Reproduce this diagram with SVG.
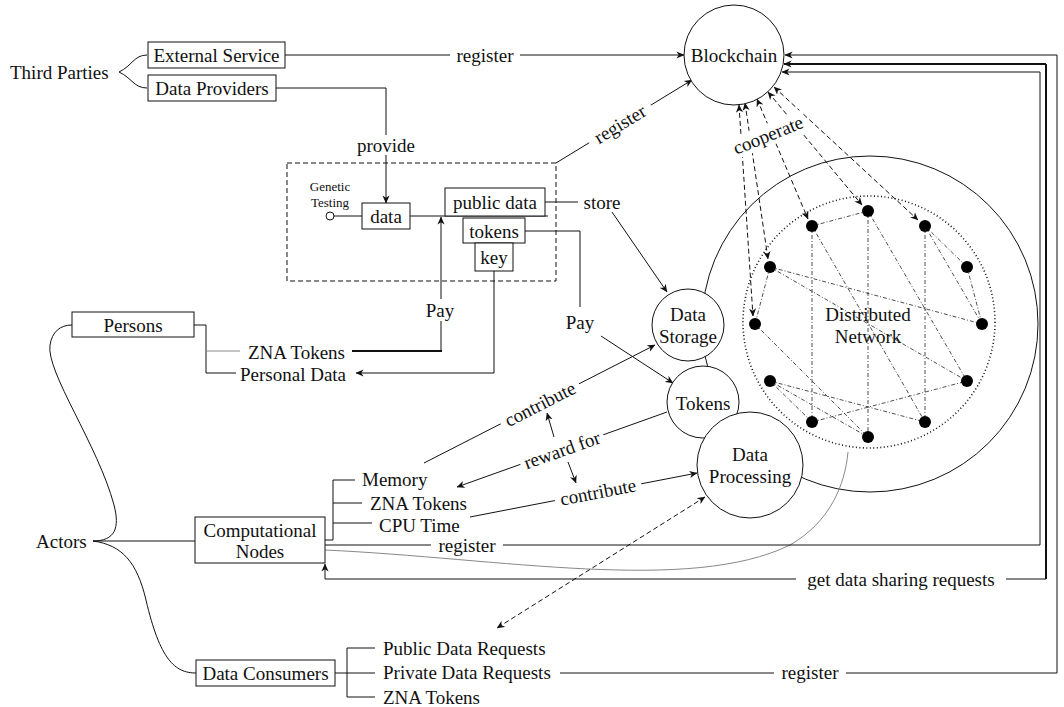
<svg xmlns="http://www.w3.org/2000/svg" width="1064" height="707" viewBox="0 0 1064 707">
<style>
text{font-family:"Liberation Serif","Times New Roman",serif;font-size:19px;fill:#111;text-anchor:middle;dominant-baseline:central}
.st{text-anchor:start}
.s{font-size:13px}
.ln{fill:none;stroke:#111;stroke-width:1}
.th{fill:none;stroke:#111;stroke-width:2}
.gr{fill:none;stroke:#888;stroke-width:1}
.box{fill:#fff;stroke:#111;stroke-width:1}
.cir{fill:#fff;stroke:#111;stroke-width:1}
.dash{fill:none;stroke:#111;stroke-width:1;stroke-dasharray:5 3}
.dd{fill:none;stroke:#222;stroke-width:0.8;stroke-dasharray:4 2 1 2}
.dot{fill:none;stroke:#111;stroke-width:1.6;stroke-dasharray:1 2.5}
.bg{fill:#fff}
.nd{fill:#000}
</style>
<defs>
<marker id="a" viewBox="0 0 10 10" refX="9.5" refY="5" markerWidth="8" markerHeight="8" markerUnits="userSpaceOnUse" orient="auto-start-reverse">
<path d="M0,0.5 L10,5 L0,9.5 L3,5 z" fill="#111"/>
</marker>
</defs>

<g id="network">
<circle cx="870" cy="324" r="168" class="cir"/>
<circle cx="869" cy="322" r="126" class="dot"/>
<g id="net-edges">
<line x1="812" y1="226" x2="868" y2="211" class="dd"/>
<line x1="812" y1="226" x2="812" y2="422" class="dd"/>
<line x1="868" y1="211" x2="868" y2="437" class="dd"/>
<line x1="925" y1="226" x2="925" y2="422" class="dd" stroke="#777"/>
<line x1="868" y1="211" x2="967" y2="381" class="dd"/>
<line x1="812" y1="226" x2="925" y2="422" class="dd"/>
<line x1="925" y1="226" x2="967" y2="267" class="dd"/>
<line x1="925" y1="226" x2="982" y2="324" class="dd"/>
<line x1="967" y1="267" x2="982" y2="324" class="dd"/>
<line x1="770" y1="267" x2="982" y2="324" class="dd"/>
<line x1="770" y1="267" x2="967" y2="381" class="dd"/>
<line x1="770" y1="267" x2="755" y2="324" class="dd"/>
<line x1="755" y1="324" x2="868" y2="437" class="dd"/>
<line x1="770" y1="381" x2="812" y2="422" class="dd"/>
<line x1="770" y1="381" x2="925" y2="422" class="dd"/>
<line x1="770" y1="381" x2="868" y2="437" class="dd"/>
<line x1="812" y1="422" x2="967" y2="381" class="dd"/>
</g>
<g id="net-nodes">
<circle cx="812" cy="226" r="6" class="nd"/>
<circle cx="868" cy="211" r="6" class="nd"/>
<circle cx="925" cy="226" r="6" class="nd"/>
<circle cx="770" cy="267" r="6" class="nd"/>
<circle cx="967" cy="267" r="6" class="nd"/>
<circle cx="755" cy="324" r="6" class="nd"/>
<circle cx="982" cy="324" r="6" class="nd"/>
<circle cx="770" cy="381" r="6" class="nd"/>
<circle cx="967" cy="381" r="6" class="nd"/>
<circle cx="812" cy="422" r="6" class="nd"/>
<circle cx="925" cy="422" r="6" class="nd"/>
<circle cx="868" cy="437" r="6" class="nd"/>
</g>
<text x="868" y="314">Distributed</text>
<text x="868" y="336">Network</text>
</g>

<g id="connectors">
<path d="M147,55 C134,55 132,66 119,72 C132,78 134,88 147,88" class="ln"/>
<line x1="285" y1="55" x2="684" y2="55" class="ln" marker-end="url(#a)"/>
<rect x="450" y="45" width="70" height="20" class="bg"/>
<text x="485" y="55">register</text>
<polyline points="276,88 386,88 386,203" class="ln" marker-end="url(#a)"/>
<rect x="352" y="135" width="68" height="20" class="bg"/>
<text x="386" y="145">provide</text>
<line x1="334" y1="216" x2="362" y2="216" class="ln"/>
<line x1="410" y1="216" x2="548" y2="216" class="ln"/>
<line x1="556" y1="163" x2="692" y2="80" class="ln" marker-end="url(#a)"/>
<g transform="translate(620,124) rotate(-31.4)"><rect x="-36" y="-11" width="72" height="22" class="bg"/><text x="0" y="0">register</text></g>
<line x1="545" y1="202" x2="578" y2="202" class="ln"/>
<text x="602" y="202">store</text>
<line x1="612" y1="212" x2="667" y2="292" class="ln" marker-end="url(#a)"/>
<polyline points="525,231 580,231 580,307" class="ln"/>
<text x="580" y="322">Pay</text>
<line x1="601" y1="336" x2="673" y2="383" class="ln" marker-end="url(#a)"/>
<polyline points="494,271 494,373 356,373" class="ln" marker-end="url(#a)"/>
<line x1="352" y1="351" x2="442" y2="351" class="th"/>
<line x1="441" y1="351" x2="441" y2="217" class="ln" marker-end="url(#a)"/>
<rect x="422" y="299" width="38" height="22" class="bg"/>
<text x="440" y="310">Pay</text>
<polyline points="194,325 206,325 206,373 236,373" class="ln"/>
<line x1="206" y1="351" x2="240" y2="351" class="gr"/>
<path d="M93,541 C115,541 120,528 114,505 C98,445 46,372 50,345 C52,332 60,325 72,325" class="ln"/>
<line x1="93" y1="541" x2="195" y2="541" class="ln" stroke-width="1.5"/>
<path d="M93,541 C122,545 137,562 146,600 C160,660 175,673 196,673" class="ln"/>
<polyline points="325,540 333,540 333,480 355,480" class="ln" stroke-width="1.4"/>
<line x1="333" y1="503" x2="362" y2="503" class="ln"/>
<line x1="333" y1="523" x2="372" y2="523" class="ln" stroke-width="1.6"/>
<line x1="424" y1="463" x2="655" y2="345" class="ln" marker-end="url(#a)"/>
<g transform="translate(540,404) rotate(-27)"><rect x="-44" y="-11" width="88" height="22" class="bg"/><text x="0" y="0">contribute</text></g>
<line x1="667" y1="412" x2="457" y2="487" class="ln" marker-end="url(#a)"/>
<g transform="translate(562,450) rotate(-19.6)"><rect x="-44" y="-11" width="88" height="22" class="bg"/><text x="0" y="0">reward for</text></g>
<line x1="554" y1="437" x2="547" y2="413" class="ln" stroke-width="0.8" marker-end="url(#a)"/>
<line x1="568" y1="462" x2="576" y2="483" class="ln" stroke-width="0.8" marker-end="url(#a)"/>
<line x1="470" y1="517" x2="697" y2="473" class="ln" marker-end="url(#a)"/>
<g transform="translate(598,492) rotate(-11)"><rect x="-44" y="-11" width="88" height="22" class="bg"/><text x="0" y="0">contribute</text></g>
<path d="M325,550 C500,558 690,594 790,545 C830,522 845,485 848,452" class="gr"/>
<polyline points="325,545 1040,545 1040,72 782,72" class="ln" marker-end="url(#a)"/>
<rect x="431" y="535" width="72" height="20" class="bg"/>
<text x="467" y="545">register</text>
<line x1="1046" y1="64" x2="784" y2="64" class="th" marker-end="url(#a)"/>
<polyline points="1046,64 1046,579 325,579 325,564" class="ln" marker-end="url(#a)"/>
<line x1="1046" y1="64" x2="1046" y2="579" class="th"/>
<rect x="796" y="569" width="210" height="20" class="bg"/>
<text x="901" y="579">get data sharing requests</text>
<polyline points="560,673 1057,673 1057,55 785,55" class="ln" marker-end="url(#a)"/>
<rect x="774" y="663" width="72" height="20" class="bg"/>
<text x="810" y="672">register</text>
<line x1="335" y1="673" x2="375" y2="673" class="ln"/>
<polyline points="375,648 347,648 347,697 375,697" class="ln"/>
<line x1="705" y1="497" x2="497" y2="628" class="dash" marker-start="url(#a)" marker-end="url(#a)"/>
<line x1="739" y1="105" x2="753" y2="316" class="dash" marker-start="url(#a)" marker-end="url(#a)"/>
<line x1="745" y1="103" x2="768" y2="259" class="dash" marker-start="url(#a)" marker-end="url(#a)"/>
<line x1="757" y1="99" x2="808" y2="219" class="dash" marker-start="url(#a)" marker-end="url(#a)"/>
<line x1="768" y1="92" x2="862" y2="205" class="dash" marker-start="url(#a)" marker-end="url(#a)"/>
<line x1="774" y1="87" x2="918" y2="220" class="dash" marker-start="url(#a)" marker-end="url(#a)"/>
<g transform="translate(768,135) rotate(-22)"><rect x="-40" y="-11" width="80" height="22" class="bg"/><text x="0" y="0">cooperate</text></g>
</g>

<g id="third-parties"><text x="10" y="72" class="st">Third Parties</text></g>
<g id="external-service"><rect x="148" y="42" width="137" height="26" class="box"/><text x="216.5" y="55">External Service</text></g>
<g id="data-providers"><rect x="148" y="75" width="128" height="26" class="box"/><text x="212" y="88">Data Providers</text></g>

<g id="blockchain"><circle cx="734" cy="55" r="50" class="cir"/><text x="734" y="55">Blockchain</text></g>

<g id="genetic-testing">
<rect x="287" y="163" width="269" height="118" fill="none" stroke="#111" stroke-dasharray="5 3"/>
<text x="330" y="186" class="s">Genetic</text>
<text x="330" y="202" class="s">Testing</text>
<circle cx="330" cy="216" r="4" fill="#fff" stroke="#111"/>
</g>
<g id="data"><rect x="362" y="203" width="48" height="26" class="box"/><text x="386" y="216">data</text></g>
<g id="public-data"><rect x="445" y="188" width="100" height="28" class="box"/><text x="495" y="202">public data</text></g>
<g id="tokens-box"><rect x="463" y="218" width="62" height="25" class="box"/><text x="494" y="231">tokens</text></g>
<g id="key"><rect x="475" y="243" width="38" height="28" class="box"/><text x="494" y="257">key</text></g>

<g id="data-storage"><circle cx="688" cy="325" r="36" class="cir"/><text x="688" y="314">Data</text><text x="688" y="336">Storage</text></g>
<g id="tokens"><circle cx="703" cy="402" r="36" class="cir"/><text x="703" y="403">Tokens</text></g>
<g id="data-processing"><circle cx="750" cy="465" r="53" class="cir"/><text x="750" y="454">Data</text><text x="750" y="476">Processing</text></g>

<g id="persons"><rect x="72" y="312" width="122" height="25" class="box"/><text x="133" y="325">Persons</text>
<text x="248" y="352" class="st">ZNA Tokens</text>
<text x="240" y="374" class="st">Personal Data</text></g>

<g id="actors"><text x="36" y="541" class="st">Actors</text></g>

<g id="computational-nodes"><rect x="195" y="517" width="130" height="46" class="box"/><text x="260" y="530">Computational</text><text x="260" y="551">Nodes</text>
<text x="362" y="479" class="st">Memory</text>
<text x="370" y="503" class="st">ZNA Tokens</text>
<text x="379" y="525" class="st">CPU Time</text></g>

<g id="data-consumers"><rect x="196" y="660" width="139" height="26" class="box"/><text x="265.5" y="673">Data Consumers</text>
<text x="383" y="648" class="st">Public Data Requests</text>
<text x="383" y="672" class="st">Private Data Requests</text>
<text x="383" y="697" class="st">ZNA Tokens</text></g>
</svg>
